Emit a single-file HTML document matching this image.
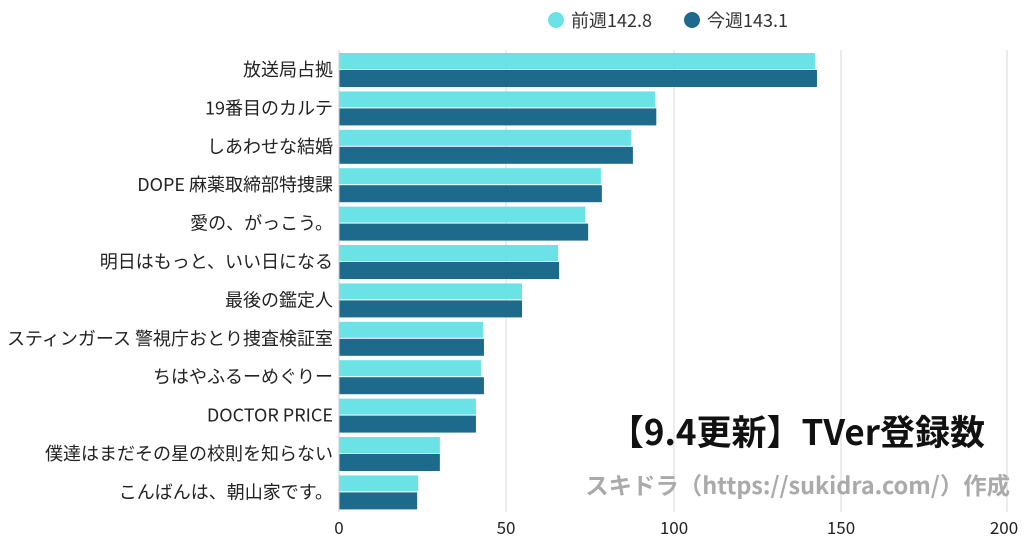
<!DOCTYPE html>
<html><head><meta charset="utf-8"><style>
body{margin:0;background:#fff;}
svg text{font-family:"Noto Sans CJK JP","Liberation Sans",sans-serif;}
</style></head><body>
<svg width="1024" height="538" viewBox="0 0 1024 538" xmlns="http://www.w3.org/2000/svg">
<g stroke="#d9d9d9" stroke-width="1">
<line x1="506" y1="50" x2="506" y2="512"/><line x1="674" y1="50" x2="674" y2="512"/>
<line x1="841" y1="50" x2="841" y2="512"/><line x1="1007" y1="50" x2="1007" y2="512"/>
</g>
<circle cx="556" cy="20" r="8" fill="#6be3e6"/>
<text x="571" y="27" font-size="18" fill="#333">前週142.8</text>
<circle cx="692" cy="20" r="8" fill="#1e6a8d"/>
<text x="707" y="27" font-size="18" fill="#333">今週143.1</text>
<g id="bars"></g>
<g font-size="18" fill="#222" text-anchor="end" id="labels"></g>
<line x1="339" y1="50" x2="339" y2="512" stroke="#ccc"/>
<g font-size="17" fill="#222" text-anchor="middle">
<text x="339" y="534">0</text><text x="506" y="534">50</text><text x="674" y="534">100</text><text x="841" y="534">150</text><text x="1004" y="534">200</text>
</g>
<text x="985" y="445" font-size="35" font-weight="bold" fill="#111" text-anchor="end">【9.4更新】TVer登録数</text>
<text x="1010" y="494" font-size="23.4" font-weight="bold" fill="#aaa" text-anchor="end">スキドラ（https://sukidra.com/）作成</text>
</svg>
<script>
var d=[["放送局占拠",142.5,143.1],["19番目のカルテ",94.6,95],["しあわせな結婚",87.4,88],["DOPE 麻薬取締部特捜課",78.4,78.7],["愛の、がっこう。",73.7,74.6],["明日はもっと、いい日になる",65.6,65.9],["最後の鑑定人",54.8,54.8],["スティンガース 警視庁おとり捜査検証室",43.1,43.4],["ちはやふるーめぐりー",42.5,43.4],["DOCTOR PRICE",41,41],["僕達はまだその星の校則を知らない",30.2,30.2],["こんばんは、朝山家です。",23.7,23.4]];
var ns="http://www.w3.org/2000/svg",b=document.getElementById("bars"),l=document.getElementById("labels");
d.forEach(function(r,i){var y=53+38.4*i;
[[r[1],y,16,"#6be3e6"],[r[2],y+17,17,"#1e6a8d"]].forEach(function(q){var e=document.createElementNS(ns,"rect");e.setAttribute("x",339);e.setAttribute("y",q[1]);e.setAttribute("width",q[0]*3.34);e.setAttribute("height",q[2]);e.setAttribute("fill",q[3]);b.appendChild(e);});
var t=document.createElementNS(ns,"text");t.setAttribute("x",333);t.setAttribute("y",y+23);t.textContent=r[0];l.appendChild(t);});
</script>
</body></html>
